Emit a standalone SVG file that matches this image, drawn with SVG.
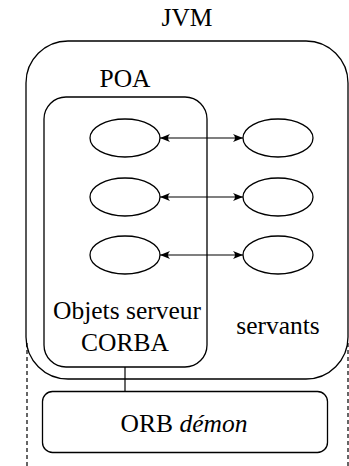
<svg xmlns="http://www.w3.org/2000/svg" width="349" height="466" viewBox="0 0 349 466">
  <style>
    .box { fill: none; stroke: #000; stroke-width: 1.3; }
    .obj { fill: #fff; stroke: #000; stroke-width: 1.3; }
    .link { fill: none; stroke: #000; stroke-width: 1.2; }
    .dash { fill: none; stroke: #000; stroke-width: 1.2; stroke-dasharray: 4 3; }
    .lbl { font-family: "Liberation Serif", "DejaVu Serif", serif; font-size: 25.5px; fill: #000; text-anchor: middle; }
  </style>
  <defs>
    <marker id="arr" viewBox="0 0 10 8" refX="10" refY="4" markerWidth="10" markerHeight="8" markerUnits="userSpaceOnUse" orient="auto-start-reverse">
      <path d="M0,0 Q4,4 0,8 L10,4 Z" fill="#000"/>
    </marker>
  </defs>

  <!-- lifelines below the JVM -->
  <g id="lifelines">
    <line class="dash" x1="27" y1="343" x2="27" y2="466"/>
    <line class="dash" x1="348" y1="343" x2="348" y2="466"/>
  </g>

  <g id="jvm">
    <rect class="box" x="26" y="41" width="322" height="338" rx="42" ry="42"/>
    <text class="lbl" x="187" y="26" font-family="Liberation Serif, serif">JVM</text>
  </g>

  <g id="poa">
    <rect class="box" x="44" y="97" width="163" height="270" rx="22" ry="22"/>
    <text class="lbl" x="125" y="87" font-family="Liberation Serif, serif">POA</text>
    <text class="lbl" x="127" y="319" font-family="Liberation Serif, serif">Objets serveur</text>
    <text class="lbl" x="125" y="351" font-family="Liberation Serif, serif">CORBA</text>
  </g>

  <g id="servants-label">
    <text class="lbl" x="278" y="334" font-family="Liberation Serif, serif">servants</text>
  </g>

  <g id="orb">
    <rect class="box" x="42.5" y="391.5" width="285" height="61" rx="10" ry="10"/>
    <text class="lbl" x="184" y="432" font-family="Liberation Serif, serif">ORB <tspan font-style="italic">démon</tspan></text>
  </g>

  <g id="corba-objects">
    <ellipse class="obj" cx="125" cy="138" rx="35" ry="19"/>
    <ellipse class="obj" cx="125" cy="197" rx="35" ry="19"/>
    <ellipse class="obj" cx="125" cy="255" rx="35" ry="19"/>
  </g>

  <g id="servants">
    <ellipse class="obj" cx="278" cy="138" rx="35" ry="19"/>
    <ellipse class="obj" cx="278" cy="197" rx="35" ry="19"/>
    <ellipse class="obj" cx="278" cy="255" rx="35" ry="19"/>
  </g>

  <g id="connectors">
    <line class="link" x1="160" y1="138" x2="243" y2="138" marker-start="url(#arr)" marker-end="url(#arr)"/>
    <line class="link" x1="160" y1="197" x2="243" y2="197" marker-start="url(#arr)" marker-end="url(#arr)"/>
    <line class="link" x1="160" y1="255" x2="243" y2="255" marker-start="url(#arr)" marker-end="url(#arr)"/>
    <line class="link" x1="125" y1="367" x2="125" y2="391.5"/>
  </g>
</svg>
